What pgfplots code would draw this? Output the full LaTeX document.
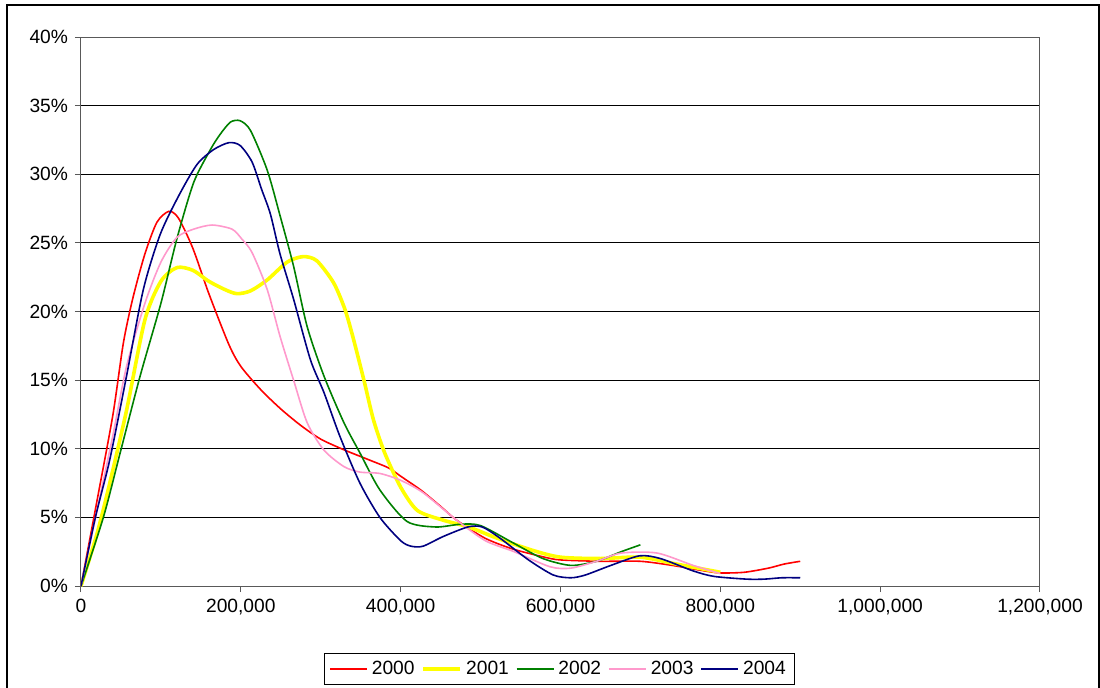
\documentclass[border=0pt]{standalone}
\usepackage{fontspec}
\setmainfont{Liberation Sans}
\usepackage{pgfplots}
\pgfplotsset{compat=1.18}
\definecolor{c2000}{HTML}{FF0000}
\definecolor{c2001}{HTML}{FFFF00}
\definecolor{c2002}{HTML}{008000}
\definecolor{c2003}{HTML}{FF99CC}
\definecolor{c2004}{HTML}{000080}
\newcommand{\chartfont}{\fontsize{9.6}{11}\selectfont}
\begin{document}
\begin{tikzpicture}
\useasboundingbox (-40.5pt,-50.5pt) rectangle (509.5pt,293pt);
\begin{axis}[
    at={(0,0)}, anchor=south west,
    scale only axis,
    width=479.5pt, height=274.5pt,
    xmin=0, xmax=1200000,
    ymin=0, ymax=40,
    xtick={0,200000,...,1200000},
    ytick={0,5,...,40},
    scaled x ticks=false,
    xticklabel style={/pgf/number format/.cd, fixed, 1000 sep={,}, assume math mode=true},
    yticklabel={\pgfmathprintnumber[assume math mode=true]{\tick}\%},
    ticklabel style={font=\chartfont},
    tick align=outside,
    major tick length=3pt,
    xtick pos=bottom, ytick pos=left,
    tick style={gray!70!black, line width=0.5pt},
    axis line style={gray!70!black, line width=0.5pt},
    ymajorgrids=true,
    major grid style={black, line width=0.45pt},
    legend columns=5,
    legend style={at={(axis description cs:0.499,-0.151)}, anchor=center,
        draw=black, line width=0.5pt, font=\chartfont,
        inner xsep=2.5pt, inner ysep=1.5pt,
        /tikz/every even column/.append style={column sep=1.5pt}},
    legend image code/.code={\draw[#1] (0pt,0pt) -- (18.5pt,0pt);},
    every axis plot/.append style={smooth, tension=0.45},
]
\addplot[c2000, line width=0.8pt] coordinates {
(0,0)(20000,6.2)(40000,12.5)(53000,17.7)(65000,21)(80000,24.2)(95000,26.5)(110000,27.3)
(122000,26.8)(140000,24.6)(160000,21.3)(185000,17.6)(200000,16)(225000,14.3)(250000,12.9)
(275000,11.7)(300000,10.7)(330000,9.9)(360000,9.2)(385000,8.6)(400000,8.0)(425000,7.0)
(450000,5.8)(470000,4.8)(505000,3.5)(540000,2.7)(580000,2.1)(600000,1.9)(650000,1.8)
(700000,1.8)(740000,1.5)(780000,1.1)(800000,0.95)(830000,1.0)(860000,1.3)(880000,1.6)(900000,1.8)};
\addlegendentry{2000}
\addplot[c2001, line width=1.8pt] coordinates {
(0,0)(20000,3.8)(36000,7.5)(57000,12.8)(80000,19.4)(100000,22.2)(120000,23.2)(140000,23.0)
(160000,22.2)(180000,21.6)(195000,21.3)(212000,21.5)(233000,22.3)(258000,23.6)(278000,24.0)
(295000,23.7)(316000,22.1)(330000,20.2)(340000,18.2)(354000,15.0)(366000,12.1)(380000,9.7)
(400000,7.2)(421000,5.5)(453000,4.8)(485000,4.3)(520000,3.5)(565000,2.6)(600000,2.1)
(650000,2.0)(700000,2.1)(745000,1.6)(800000,1.0)};
\addlegendentry{2001}
\addplot[c2002, line width=0.8pt] coordinates {
(0,0)(28000,5.0)(49000,9.7)(74000,15.3)(100000,20.6)(120000,25.3)(141000,29.4)(162000,31.8)
(174000,32.9)(187000,33.8)(199000,33.9)(212000,33.2)(233000,30.3)(249000,27.0)(266000,23.3)
(283000,18.9)(304000,15.3)(329000,11.9)(349000,9.7)(374000,7.0)(408000,4.7)(444000,4.3)
(475000,4.5)(500000,4.4)(542000,3.1)(578000,2.0)(613000,1.5)(645000,1.8)(676000,2.5)(700000,3.0)};
\addlegendentry{2002}
\addplot[c2003, line width=0.8pt] coordinates {
(0,0)(20000,5.5)(40000,11)(57000,16.0)(80000,20.6)(100000,23.6)(120000,25.4)(141000,26.0)
(164000,26.3)(189000,26.0)(201000,25.3)(214000,24.3)(233000,21.6)(249000,18.2)(266000,15.0)
(283000,11.9)(304000,9.9)(329000,8.7)(349000,8.3)(374000,8.2)(400000,7.7)(428000,6.8)
(470000,4.8)(506000,3.3)(542000,2.5)(587000,1.4)(613000,1.3)(645000,1.8)(676000,2.4)
(721000,2.4)(766000,1.5)(800000,0.9)};
\addlegendentry{2003}
\addplot[c2004, line width=0.8pt] coordinates {
(0,0)(18000,5)(36000,9.2)(57000,15.3)(78000,21.6)(99000,25.6)(122000,28.4)(145000,30.7)
(166000,31.8)(185000,32.3)(199000,32.1)(214000,30.9)(226000,28.9)(237000,27.1)(249000,24.2)
(266000,20.9)(287000,16.5)(304000,14.1)(324000,10.9)(349000,7.5)(374000,5.0)(400000,3.3)
(413000,2.9)(428000,2.9)(453000,3.6)(484000,4.3)(502000,4.3)(524000,3.5)(560000,1.9)
(591000,0.8)(613000,0.6)(631000,0.8)(663000,1.5)(699000,2.2)(725000,2.0)(766000,1.1)
(792000,0.7)(833000,0.5)(855000,0.5)(877000,0.6)(900000,0.6)};
\addlegendentry{2004}
\end{axis}
\draw[black, line width=0.6pt] (-37pt,-60pt) -- (-37pt,290.5pt) -- (509pt,290.5pt) -- (509pt,-60pt);
\end{tikzpicture}
\end{document}
